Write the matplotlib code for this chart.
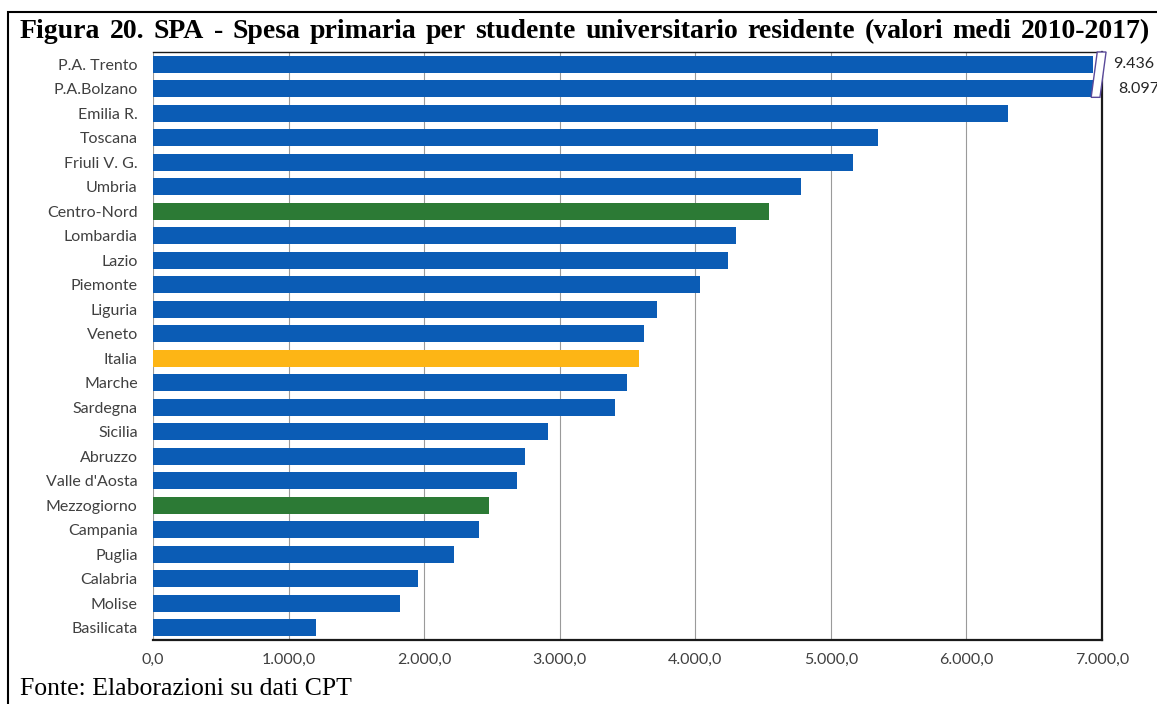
import numpy as np
import matplotlib
matplotlib.use('agg')
import matplotlib.pyplot as plt
from matplotlib.patches import Polygon, Rectangle
from matplotlib.ticker import FuncFormatter


regions = ['P.A. Trento', 'P.A.Bolzano', 'Emilia R.', 'Toscana', 'Friuli V. G.', 'Umbria',
           'Centro-Nord', 'Lombardia', 'Lazio', 'Piemonte', 'Liguria', 'Veneto', 'Italia',
           'Marche', 'Sardegna', 'Sicilia', 'Abruzzo', "Valle d'Aosta", 'Mezzogiorno',
           'Campania', 'Puglia', 'Calabria', 'Molise', 'Basilicata']
spesa = [9436, 8097, 6305, 5347, 5162, 4779, 4543, 4299, 4240, 4034, 3717, 3621, 3584,
         3496, 3407, 2913, 2743, 2684, 2478, 2404, 2220, 1954, 1822, 1202]
x_ticks = [0, 1000, 2000, 3000, 4000, 5000, 6000, 7000]

title = 'Figura 20. SPA - Spesa primaria per studente universitario residente (valori medi 2010-2017)'
source = 'Fonte: Elaborazioni su dati CPT'

BLUE = '#0B5CB5'
GREEN = '#2C7A35'
YELLOW = '#FDB515'
X_MAX = 7000
BREAK_AT = 6930


def bar_color(name):
    if name in ('Centro-Nord', 'Mezzogiorno'):
        return GREEN
    if name == 'Italia':
        return YELLOW
    return BLUE


def it_fmt(v, _):
    s = f'{v:,.1f}'
    return s.replace(',', 'X').replace('.', ',').replace('X', '.')


fig = plt.figure(figsize=(11.57, 7.04), dpi=100)
ax = fig.add_axes([153 / 1157, 1 - 640 / 704, 949 / 1157, 588 / 704])

y = np.arange(len(regions))
shown = [v if v <= X_MAX else BREAK_AT for v in spesa]
ax.barh(y, shown, height=0.7, color=[bar_color(r) for r in regions], zorder=2)

ax.set_xlim(0, X_MAX)
ax.set_ylim(len(regions) - 0.5, -0.5)
ax.set_xticks(x_ticks)
ax.xaxis.set_major_formatter(FuncFormatter(it_fmt))
ax.set_yticks(y)
ax.set_yticklabels(regions)
ax.grid(axis='x', color='#9a9a9a', linewidth=0.8, zorder=0)
ax.tick_params(axis='both', length=0, labelsize=11.5, labelcolor='#404040')
ax.tick_params(axis='x', pad=9)
ax.tick_params(axis='y', pad=11)
for lab in ax.get_xticklabels() + ax.get_yticklabels():
    lab.set_fontfamily('Lato')

ax.spines['left'].set_visible(False)
ax.spines['top'].set_linewidth(1.0)
ax.spines['bottom'].set_linewidth(1.6)
ax.spines['right'].set_linewidth(1.6)
for s in ('top', 'bottom', 'right'):
    ax.spines[s].set_color('#1a1a1a')

# break mark on the two clipped bars
brk = Polygon([(6965, -0.5), (7030, -0.5), (6985, 1.35), (6920, 1.35)],
              closed=True, facecolor='white', edgecolor='#5a4a9a', linewidth=1.0,
              zorder=5, clip_on=False)
ax.add_patch(brk)
for i, v in enumerate(spesa):
    if v > X_MAX:
        ax.text(X_MAX + 80 + i * 40, i, f'{v:,}'.replace(',', '.'), va='center', ha='left',
                fontsize=11.5, family='Lato', color='#262626', clip_on=False)

# outer frame
fig.patches.append(Rectangle((8 / 1157, -0.1), 1.2, 1.1 - 12 / 704, transform=fig.transFigure,
                             fill=False, edgecolor='black', linewidth=1.5))

# justified title
words = title.split(' ')
texts = [fig.text(0, 1 - 38 / 704, w, fontsize=20, fontweight='bold', family='Liberation Serif',
                  va='baseline', ha='left') for w in words]
fig.canvas.draw()
r = fig.canvas.get_renderer()
widths = [t.get_window_extent(r).width for t in texts]
x0, x1 = 20, 1150
gap = (x1 - x0 - sum(widths)) / (len(words) - 1)
xp = x0
for t, w in zip(texts, widths):
    t.set_x(xp / 1157)
    xp += w + gap

fig.text(20 / 1157, 1 - 695 / 704, source, fontsize=18.5, family='Liberation Serif',
         va='baseline', ha='left')

fig.savefig('out.png', dpi=100, facecolor='white')
